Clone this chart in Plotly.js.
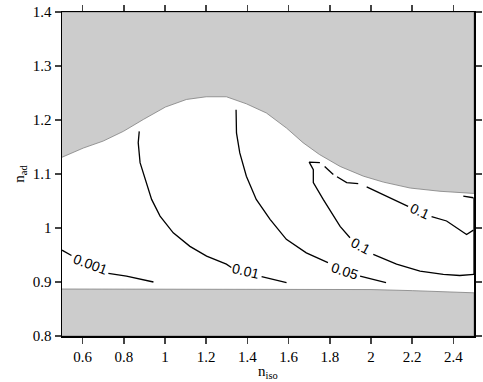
<!DOCTYPE html>
<html>
<head>
<meta charset="utf-8">
<script src="https://cdn.plot.ly/plotly-3.0.1.min.js"></script>
<style>body{margin:0;background:#fff;}</style>
</head>
<body>
<div id="graph"></div>
<script>
// upper edge of the allowed region (grey above it)
var topEdgeX = [0.5, 0.603, 0.70, 0.798, 0.895, 1.002, 1.104, 1.2, 1.298, 1.395, 1.492, 1.59, 1.67, 1.75, 1.85, 1.963, 2.06, 2.19, 2.335, 2.5];
var topEdgeY = [1.131, 1.148, 1.161, 1.179, 1.201, 1.224, 1.238, 1.243, 1.243, 1.23, 1.213, 1.185, 1.158, 1.136, 1.114, 1.096, 1.085, 1.074, 1.068, 1.064];
// lower edge (grey below it)
var lowEdgeX = [0.5, 1.0, 1.5, 2.0, 2.2, 2.5];
var lowEdgeY = [0.887, 0.887, 0.887, 0.886, 0.884, 0.880];

// contour lines, null = gap left for label or break
var c001X = [0.5, 0.546, null, 0.725, 0.813, 0.944];
var c001Y = [0.959, 0.949, null, 0.916, 0.911, 0.900];
var c01X = [0.875, 0.870, 0.879, 0.903, 0.935, 0.976, 1.040, 1.121, 1.202, 1.298, 1.322, null, 1.469, 1.590];
var c01Y = [1.179, 1.158, 1.121, 1.090, 1.053, 1.022, 0.991, 0.966, 0.948, 0.933, 0.927, null, 0.910, 0.899];
var c05X = [1.345, 1.347, 1.363, 1.395, 1.443, 1.510, 1.589, 1.686, 1.791, null, 1.947, 2.073];
var c05Y = [1.219, 1.176, 1.139, 1.096, 1.053, 1.016, 0.979, 0.954, 0.936, null, 0.911, 0.899];
var c1aX = [1.752, 1.700, 1.720, 1.720, 1.768, 1.817, 1.850, 1.898, null, 2.011, 2.124, 2.238, 2.351, 2.431, 2.5];
var c1aY = [1.121, 1.122, 1.108, 1.084, 1.053, 1.022, 1.003, 0.982, null, 0.951, 0.933, 0.920, 0.914, 0.912, 0.914];
var c1bX = [1.775, 1.817, null, 1.835, 1.882, 1.938, null, 1.979, 2.060, 2.139, 2.180, null, 2.294, 2.367, 2.464, 2.497];
var c1bY = [1.114, 1.099, null, 1.095, 1.084, 1.082, null, 1.076, 1.062, 1.048, 1.040, null, 1.021, 1.013, 0.988, 0.996];
var c1cX = [2.448, 2.497, null, 2.5, 2.5];
var c1cY = [1.059, 1.056, null, 1.056, 0.915];

var labelText = ['0.001', '0.01', '0.05', '0.1', '0.1'];
var labelX = [0.636, 1.392, 1.872, 1.950, 2.236];
var labelY = [0.934, 0.920, 0.920, 0.967, 1.031];
var labelAngle = [20, 13, 18, 28, 24];

var grey = '#cccccc';
var edge = '#7f7f7f';

function lineTrace(x, y) {
    return {x: x, y: y, type: 'scatter', mode: 'lines', connectgaps: false,
        line: {color: '#000', width: 1.3}, hoverinfo: 'skip'};
}

var topFill = {
    x: topEdgeX.concat([2.5, 0.5]),
    y: topEdgeY.concat([1.4, 1.4]),
    type: 'scatter', mode: 'lines', fill: 'toself', fillcolor: grey,
    line: {color: edge, width: 0.8}, hoverinfo: 'skip'
};
var lowFill = {
    x: lowEdgeX.concat([2.5, 0.5]),
    y: lowEdgeY.concat([0.8, 0.8]),
    type: 'scatter', mode: 'lines', fill: 'toself', fillcolor: grey,
    line: {color: edge, width: 0.8}, hoverinfo: 'skip'
};

var data = [topFill, lowFill,
    lineTrace(c001X, c001Y), lineTrace(c01X, c01Y), lineTrace(c05X, c05Y),
    lineTrace(c1aX, c1aY), lineTrace(c1bX, c1bY), lineTrace(c1cX, c1cY)];

var annotations = [];
for (var i = 0; i < labelText.length; i++) {
    annotations.push({x: labelX[i], y: labelY[i], text: labelText[i], showarrow: false,
        textangle: labelAngle[i], font: {family: 'Liberation Sans, Arial, sans-serif', size: 14, color: '#000'}});
}

var axisFont = {family: 'Liberation Serif, Times New Roman, serif', size: 15, color: '#000'};
var layout = {
    width: 483, height: 382,
    margin: {l: 62, r: 9, t: 12, b: 46},
    showlegend: false,
    paper_bgcolor: '#fff', plot_bgcolor: '#fff',
    font: axisFont,
    xaxis: {
        range: [0.5, 2.5], tick0: 0, dtick: 0.2, ticks: 'outside', ticklen: 6, tickwidth: 1.5,
        showline: true, linewidth: 1.5, linecolor: '#000', mirror: 'ticks',
        showgrid: false, zeroline: false, tickfont: axisFont,
        title: {text: 'n<sub>iso</sub>', font: axisFont, standoff: 2}
    },
    yaxis: {
        range: [0.8, 1.4], dtick: 0.1, ticks: 'outside', ticklen: 6, tickwidth: 1.5,
        showline: true, linewidth: 1.5, linecolor: '#000', mirror: 'ticks',
        showgrid: false, zeroline: false, tickfont: axisFont,
        title: {text: 'n<sub>ad</sub>', font: axisFont, standoff: 4}
    },
    annotations: annotations
};

Plotly.newPlot('graph', data, layout, {staticPlot: true});
</script>
</body>
</html>
